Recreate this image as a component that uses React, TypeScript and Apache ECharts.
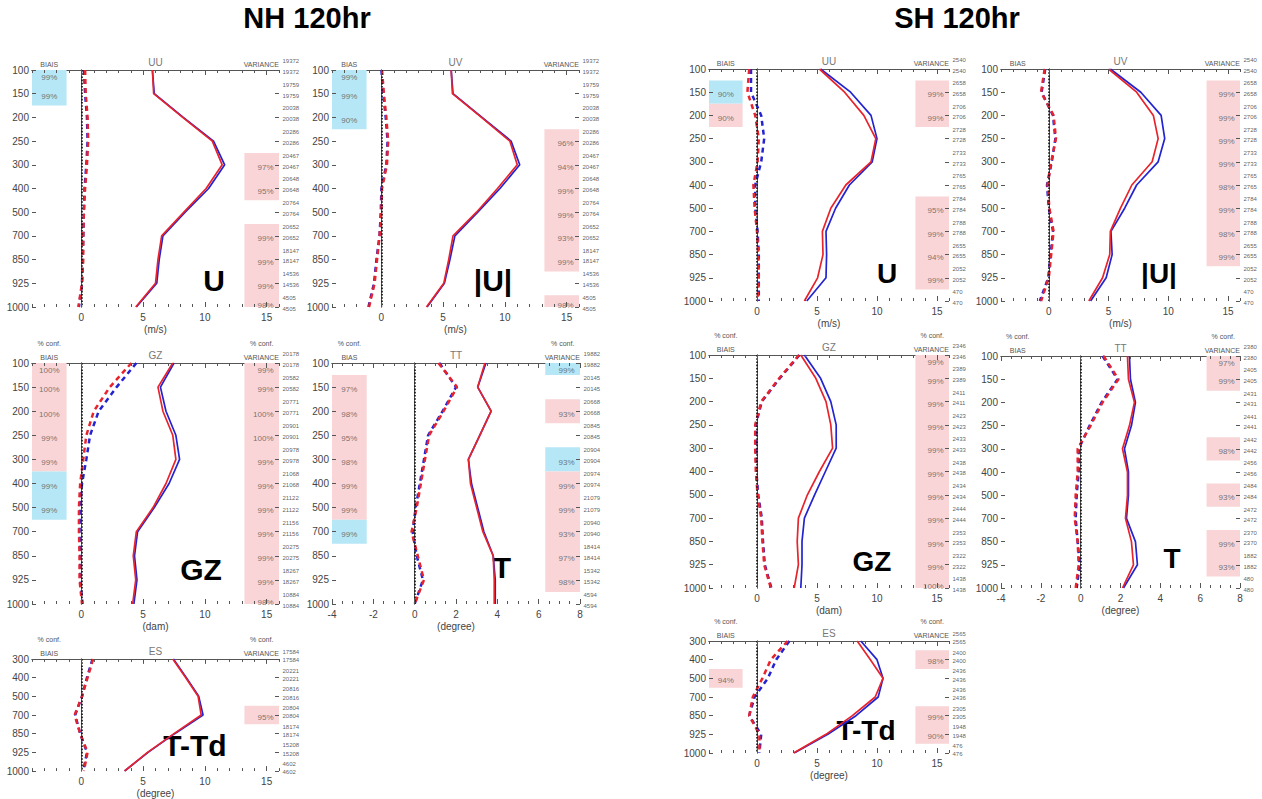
import React, { useEffect, useRef } from 'react';
import * as echarts from 'echarts';

// ---------- axes / categories ----------
const LEVELS = ['100', '150', '200', '250', '300', '400', '500', '700', '850', '925', '1000'];
const ES_LEVELS = ['300', '400', '500', '700', '850', '925', '1000'];
const WIND_X_LABELS = [0, 5, 10, 15];
const TEMP_X_LABELS = [-4, -2, 0, 2, 4, 6, 8];

// ---------- NH 120hr ----------
const NH_U_RMS_RED = [5.75, 5.85, 8.2, 10.6, 11.4, 10.1, 8.3, 6.5, 6.2, 6.0, 4.4];
const NH_U_RMS_BLUE = [5.75, 5.9, 8.25, 10.7, 11.6, 10.3, 8.4, 6.6, 6.3, 6.1, 4.45];
const NH_U_BIAS_RED = [0.3, 0.35, 0.5, 0.55, 0.45, 0.3, 0.2, 0.15, 0.15, 0.05, -0.25];
const NH_U_BIAS_BLUE = [0.2, 0.3, 0.45, 0.5, 0.4, 0.25, 0.2, 0.15, 0.1, 0.05, -0.2];
const NH_WIND_COUNTS = [19372, 19759, 20038, 20286, 20467, 20648, 20764, 20652, 18147, 14536, 4505];
const NH_U_BIAS_CONF = [['100', '99%', 'blue'], ['150', '99%', 'blue']];
const NH_U_VAR_CONF = [['300', '97%', 'pink'], ['400', '95%', 'pink'], ['700', '99%', 'pink'], ['850', '99%', 'pink'], ['925', '99%', 'pink'], ['1000', '98%', 'pink']];

const NH_UV_RMS_RED = [5.65, 5.75, 8.1, 10.4, 11.0, 9.4, 7.7, 5.8, 5.45, 5.05, 3.65];
const NH_UV_RMS_BLUE = [5.65, 5.8, 8.15, 10.5, 11.2, 9.6, 7.8, 5.95, 5.55, 5.1, 3.7];
const NH_UV_BIAS_RED = [0.05, 0.2, 0.4, 0.55, 0.45, 0.05, 0.0, -0.15, -0.35, -0.55, -1.0];
const NH_UV_BIAS_BLUE = [0.0, 0.15, 0.35, 0.5, 0.4, 0.0, -0.05, -0.15, -0.4, -0.6, -1.05];
const NH_UV_BIAS_CONF = [['100', '99%', 'blue'], ['150', '99%', 'blue'], ['200', '90%', 'blue']];
const NH_UV_VAR_CONF = [['250', '96%', 'pink'], ['300', '94%', 'pink'], ['400', '99%', 'pink'], ['500', '99%', 'pink'], ['700', '93%', 'pink'], ['850', '99%', 'pink'], ['1000', '98%', 'pink']];

const NH_GZ_RMS_RED = [7.4, 6.2, 6.6, 7.4, 7.65, 6.85, 5.8, 4.45, 4.2, 4.4, 4.15];
const NH_GZ_RMS_BLUE = [7.5, 6.4, 6.85, 7.65, 7.95, 7.1, 5.9, 4.55, 4.3, 4.5, 4.25];
const NH_GZ_BIAS_RED = [4.05, 2.3, 1.0, 0.4, 0.15, -0.1, -0.2, -0.2, -0.15, -0.15, 0.05];
const NH_GZ_BIAS_BLUE = [4.45, 2.85, 1.4, 0.7, 0.4, 0.05, -0.1, -0.15, -0.1, -0.1, 0.1];
const NH_GZ_COUNTS = [20178, 20582, 20771, 20901, 20978, 21068, 21122, 21156, 20275, 18267, 10884];
const NH_GZ_BIAS_CONF = [['100', '100%', 'pink'], ['150', '100%', 'pink'], ['200', '100%', 'pink'], ['250', '99%', 'pink'], ['300', '99%', 'pink'], ['400', '99%', 'blue'], ['500', '99%', 'blue']];
const NH_GZ_VAR_CONF = [['100', '99%', 'pink'], ['150', '99%', 'pink'], ['200', '100%', 'pink'], ['250', '100%', 'pink'], ['300', '99%', 'pink'], ['400', '99%', 'pink'], ['500', '99%', 'pink'], ['700', '99%', 'pink'], ['850', '99%', 'pink'], ['925', '99%', 'pink'], ['1000', '98%', 'pink']];

const NH_TT_RMS_RED = [3.4, 3.05, 3.7, 3.15, 2.6, 2.7, 3.0, 3.3, 3.8, 3.85, 3.85];
const NH_TT_RMS_BLUE = [3.45, 3.05, 3.7, 3.15, 2.6, 2.75, 3.05, 3.35, 3.8, 3.9, 3.9];
const NH_TT_BIAS_RED = [1.15, 2.05, 1.4, 0.7, 0.5, 0.3, 0.1, -0.15, 0.15, 0.45, 0.0];
const NH_TT_BIAS_BLUE = [1.2, 2.0, 1.35, 0.65, 0.45, 0.25, 0.05, -0.1, 0.1, 0.4, 0.0];
const NH_TT_COUNTS = [19882, 20145, 20668, 20845, 20904, 20974, 21079, 20940, 18414, 15342, 4594];
const NH_TT_BIAS_CONF = [['150', '97%', 'pink'], ['200', '98%', 'pink'], ['250', '95%', 'pink'], ['300', '98%', 'pink'], ['400', '99%', 'pink'], ['500', '99%', 'pink'], ['700', '99%', 'blue']];
const NH_TT_VAR_CONF = [['100', '99%', 'blue'], ['200', '93%', 'pink'], ['300', '93%', 'blue'], ['400', '99%', 'pink'], ['500', '99%', 'pink'], ['700', '93%', 'pink'], ['850', '97%', 'pink'], ['925', '98%', 'pink']];

const NH_ES_RMS_RED = [7.4, 8.45, 9.45, 9.7, 7.5, 5.35, 3.5];
const NH_ES_RMS_BLUE = [7.45, 8.5, 9.5, 9.85, 7.55, 5.4, 3.5];
const NH_ES_BIAS_RED = [0.95, 0.5, 0.05, -0.55, -0.1, 0.5, 0.2];
const NH_ES_BIAS_BLUE = [0.9, 0.45, 0.05, -0.5, -0.1, 0.45, 0.15];
const NH_ES_COUNTS = [17584, 20221, 20816, 20804, 18174, 15208, 4602];
const NH_ES_BIAS_CONF: string[][] = [];
const NH_ES_VAR_CONF = [['700', '95%', 'pink']];

// ---------- SH 120hr ----------
const SH_U_RMS_RED = [5.2, 7.3, 8.9, 9.9, 9.5, 7.4, 6.15, 5.45, 5.5, 5.05, 3.95];
const SH_U_RMS_BLUE = [5.3, 7.8, 9.5, 10.0, 9.6, 7.7, 6.55, 5.75, 5.8, 5.75, 4.15];
const SH_U_BIAS_RED = [-0.65, -0.8, -0.15, 0.15, 0.05, -0.3, -0.2, 0.0, 0.1, 0.15, 0.05];
const SH_U_BIAS_BLUE = [-0.5, -0.5, 0.35, 0.6, 0.35, -0.15, -0.15, 0.05, 0.15, 0.15, 0.15];
const SH_WIND_COUNTS = [2540, 2658, 2706, 2728, 2733, 2765, 2784, 2788, 2655, 2052, 470];
const SH_U_BIAS_CONF = [['150', '90%', 'blue'], ['200', '90%', 'pink']];
const SH_U_VAR_CONF = [['150', '99%', 'pink'], ['200', '99%', 'pink'], ['500', '95%', 'pink'], ['700', '99%', 'pink'], ['850', '94%', 'pink'], ['925', '99%', 'pink']];

const SH_UV_RMS_RED = [5.0, 7.35, 8.75, 9.15, 8.65, 6.95, 6.0, 5.15, 5.1, 4.5, 3.35];
const SH_UV_RMS_BLUE = [5.15, 7.7, 9.4, 9.7, 9.15, 7.35, 6.35, 5.2, 5.3, 4.8, 3.5];
const SH_UV_BIAS_RED = [-0.35, -0.65, 0.4, 0.6, 0.2, -0.1, 0.05, 0.4, 0.2, 0.0, -0.65];
const SH_UV_BIAS_BLUE = [-0.3, -0.6, 0.35, 0.55, 0.25, -0.15, 0.0, 0.35, 0.15, -0.05, -0.75];
const SH_UV_BIAS_CONF: string[][] = [];
const SH_UV_VAR_CONF = [['150', '99%', 'pink'], ['200', '99%', 'pink'], ['250', '99%', 'pink'], ['300', '99%', 'pink'], ['400', '98%', 'pink'], ['500', '99%', 'pink'], ['700', '98%', 'pink'], ['850', '99%', 'pink']];

const SH_GZ_RMS_RED = [3.65, 4.9, 5.75, 6.15, 6.3, 5.2, 4.2, 3.45, 3.35, 3.45, 3.1];
const SH_GZ_RMS_BLUE = [3.95, 5.3, 6.15, 6.6, 6.6, 5.7, 4.8, 3.95, 3.75, 3.75, 3.65];
const SH_GZ_BIAS_RED = [3.5, 1.85, 0.35, -0.15, -0.15, -0.1, 0.05, 0.35, 0.45, 0.6, 1.15];
const SH_GZ_BIAS_BLUE = [3.55, 1.9, 0.4, -0.1, -0.1, -0.05, 0.1, 0.4, 0.5, 0.65, 1.2];
const SH_GZ_COUNTS = [2346, 2389, 2411, 2423, 2433, 2438, 2434, 2444, 2353, 2322, 1438];
const SH_GZ_BIAS_CONF: string[][] = [];
const SH_GZ_VAR_CONF = [['100', '99%', 'pink'], ['150', '99%', 'pink'], ['200', '99%', 'pink'], ['250', '99%', 'pink'], ['300', '99%', 'pink'], ['400', '99%', 'pink'], ['500', '99%', 'pink'], ['700', '99%', 'pink'], ['850', '99%', 'pink'], ['925', '99%', 'pink'], ['1000', '100%', 'pink']];

const SH_TT_RMS_RED = [2.35, 2.4, 2.7, 2.45, 2.1, 2.35, 2.35, 2.25, 2.55, 2.65, 2.1];
const SH_TT_RMS_BLUE = [2.45, 2.5, 2.75, 2.55, 2.2, 2.4, 2.4, 2.3, 2.75, 2.85, 2.15];
const SH_TT_BIAS_RED = [1.15, 1.9, 1.1, 0.5, -0.15, -0.15, -0.25, -0.3, -0.15, -0.1, -0.25];
const SH_TT_BIAS_BLUE = [1.1, 1.85, 1.05, 0.45, -0.1, -0.1, -0.2, -0.25, -0.15, -0.05, -0.2];
const SH_TT_COUNTS = [2380, 2405, 2431, 2441, 2442, 2456, 2484, 2472, 2370, 1882, 480];
const SH_TT_BIAS_CONF: string[][] = [];
const SH_TT_VAR_CONF = [['100', '97%', 'pink'], ['150', '99%', 'pink'], ['300', '98%', 'pink'], ['500', '93%', 'pink'], ['850', '99%', 'pink'], ['925', '93%', 'pink']];

const SH_ES_RMS_RED = [8.35, 9.45, 10.5, 9.85, 7.95, 5.75, 3.05];
const SH_ES_RMS_BLUE = [8.65, 10.0, 10.5, 10.1, 8.25, 5.9, 3.1];
const SH_ES_BIAS_RED = [2.55, 1.15, 0.45, -0.35, -0.65, 0.2, 0.2];
const SH_ES_BIAS_BLUE = [2.7, 1.6, 0.9, -0.2, -0.65, 0.35, 0.2];
const SH_ES_COUNTS = [2565, 2400, 2436, 2436, 2305, 1948, 476];
const SH_ES_BIAS_CONF = [['500', '94%', 'pink']];
const SH_ES_VAR_CONF = [['400', '98%', 'pink'], ['850', '99%', 'pink'], ['925', '90%', 'pink']];

// ---------- panel definitions ----------
const PANELS = [
  { id: 'nhU', title: 'UU', biasWord: 'BIAIS', big: 'U', unit: '(m/s)', kind: 'wind', levels: LEVELS, pctConf: false,
    rmsRed: NH_U_RMS_RED, rmsBlue: NH_U_RMS_BLUE, biasRed: NH_U_BIAS_RED, biasBlue: NH_U_BIAS_BLUE, counts: NH_WIND_COUNTS, biasConf: NH_U_BIAS_CONF, varConf: NH_U_VAR_CONF },
  { id: 'nhUV', title: 'UV', biasWord: 'BIAS', big: '|U|', unit: '(m/s)', kind: 'wind', levels: LEVELS, pctConf: false,
    rmsRed: NH_UV_RMS_RED, rmsBlue: NH_UV_RMS_BLUE, biasRed: NH_UV_BIAS_RED, biasBlue: NH_UV_BIAS_BLUE, counts: NH_WIND_COUNTS, biasConf: NH_UV_BIAS_CONF, varConf: NH_UV_VAR_CONF },
  { id: 'nhGZ', title: 'GZ', biasWord: 'BIAIS', big: 'GZ', unit: '(dam)', kind: 'wind', levels: LEVELS, pctConf: true,
    rmsRed: NH_GZ_RMS_RED, rmsBlue: NH_GZ_RMS_BLUE, biasRed: NH_GZ_BIAS_RED, biasBlue: NH_GZ_BIAS_BLUE, counts: NH_GZ_COUNTS, biasConf: NH_GZ_BIAS_CONF, varConf: NH_GZ_VAR_CONF },
  { id: 'nhTT', title: 'TT', biasWord: 'BIAS', big: 'T', unit: '(degree)', kind: 'temp', levels: LEVELS, pctConf: true,
    rmsRed: NH_TT_RMS_RED, rmsBlue: NH_TT_RMS_BLUE, biasRed: NH_TT_BIAS_RED, biasBlue: NH_TT_BIAS_BLUE, counts: NH_TT_COUNTS, biasConf: NH_TT_BIAS_CONF, varConf: NH_TT_VAR_CONF },
  { id: 'nhES', title: 'ES', biasWord: 'BIAIS', big: 'T-Td', unit: '(degree)', kind: 'wind', levels: ES_LEVELS, pctConf: true,
    rmsRed: NH_ES_RMS_RED, rmsBlue: NH_ES_RMS_BLUE, biasRed: NH_ES_BIAS_RED, biasBlue: NH_ES_BIAS_BLUE, counts: NH_ES_COUNTS, biasConf: NH_ES_BIAS_CONF, varConf: NH_ES_VAR_CONF },
  { id: 'shU', title: 'UU', biasWord: 'BIAIS', big: 'U', unit: '(m/s)', kind: 'wind', levels: LEVELS, pctConf: false,
    rmsRed: SH_U_RMS_RED, rmsBlue: SH_U_RMS_BLUE, biasRed: SH_U_BIAS_RED, biasBlue: SH_U_BIAS_BLUE, counts: SH_WIND_COUNTS, biasConf: SH_U_BIAS_CONF, varConf: SH_U_VAR_CONF },
  { id: 'shUV', title: 'UV', biasWord: 'BIAS', big: '|U|', unit: '(m/s)', kind: 'wind', levels: LEVELS, pctConf: false,
    rmsRed: SH_UV_RMS_RED, rmsBlue: SH_UV_RMS_BLUE, biasRed: SH_UV_BIAS_RED, biasBlue: SH_UV_BIAS_BLUE, counts: SH_WIND_COUNTS, biasConf: SH_UV_BIAS_CONF, varConf: SH_UV_VAR_CONF },
  { id: 'shGZ', title: 'GZ', biasWord: 'BIAIS', big: 'GZ', unit: '(dam)', kind: 'wind', levels: LEVELS, pctConf: true,
    rmsRed: SH_GZ_RMS_RED, rmsBlue: SH_GZ_RMS_BLUE, biasRed: SH_GZ_BIAS_RED, biasBlue: SH_GZ_BIAS_BLUE, counts: SH_GZ_COUNTS, biasConf: SH_GZ_BIAS_CONF, varConf: SH_GZ_VAR_CONF },
  { id: 'shTT', title: 'TT', biasWord: 'BIAS', big: 'T', unit: '(degree)', kind: 'temp', levels: LEVELS, pctConf: true,
    rmsRed: SH_TT_RMS_RED, rmsBlue: SH_TT_RMS_BLUE, biasRed: SH_TT_BIAS_RED, biasBlue: SH_TT_BIAS_BLUE, counts: SH_TT_COUNTS, biasConf: SH_TT_BIAS_CONF, varConf: SH_TT_VAR_CONF },
  { id: 'shES', title: 'ES', biasWord: 'BIAIS', big: 'T-Td', unit: '(degree)', kind: 'wind', levels: ES_LEVELS, pctConf: true,
    rmsRed: SH_ES_RMS_RED, rmsBlue: SH_ES_RMS_BLUE, biasRed: SH_ES_BIAS_RED, biasBlue: SH_ES_BIAS_BLUE, counts: SH_ES_COUNTS, biasConf: SH_ES_BIAS_CONF, varConf: SH_ES_VAR_CONF },
];

// ---------- layout (pixels) ----------
const LAYOUT: Record<string, any> = {
  nhU: { left: 32, top: 70, width: 247, height: 237, bigX: 214, bigY: 280, bigSize: 30 },
  nhUV: { left: 332, top: 70, width: 247, height: 237, bigX: 493, bigY: 280, bigSize: 30 },
  nhGZ: { left: 32, top: 363, width: 247, height: 241, bigX: 201, bigY: 569, bigSize: 30 },
  nhTT: { left: 332, top: 363, width: 248, height: 241, bigX: 502, bigY: 567, bigSize: 30 },
  nhES: { left: 32, top: 659, width: 247, height: 115, bigX: 195, bigY: 745, bigSize: 30 },
  shU: { left: 709, top: 69, width: 240, height: 232, bigX: 887, bigY: 273, bigSize: 28 },
  shUV: { left: 1001, top: 69, width: 239, height: 232, bigX: 1159, bigY: 273, bigSize: 28 },
  shGZ: { left: 709, top: 355, width: 240, height: 233, bigX: 872, bigY: 561, bigSize: 28 },
  shTT: { left: 1001, top: 356, width: 239, height: 232, bigX: 1172, bigY: 558, bigSize: 28 },
  shES: { left: 709, top: 641, width: 240, height: 112, bigX: 866, bigY: 730, bigSize: 28 },
};

const RED = '#e8232b';
const BLUE = '#2323d2';
const FRAME = '#555';
const BOX_COLORS: Record<string, string> = { pink: '#f9d5d7', blue: '#b6e7f6' };
const FONT = '"Liberation Sans", Arial, Helvetica, sans-serif';

function txt(x: number, y: number, text: string, size: number, fill: string, align = 'center', weight = 'normal') {
  return {
    type: 'text', x, y, silent: true,
    style: { text, fill, fontSize: size, fontWeight: weight, fontFamily: FONT, align, textAlign: align, verticalAlign: 'middle', textVerticalAlign: 'middle' },
  };
}

function buildOption() {
  const grid: any[] = [];
  const xAxis: any[] = [];
  const yAxis: any[] = [];
  const series: any[] = [];
  const graphic: any[] = [
    txt(307, 18, 'NH 120hr', 29, '#000', 'center', 'bold'),
    txt(957, 18, 'SH 120hr', 29, '#000', 'center', 'bold'),
  ];

  PANELS.forEach((p, k) => {
    const L = LAYOUT[p.id];
    const n = p.levels.length;
    const xmin = -4;
    const xmax = p.kind === 'wind' ? 16 : 8;
    const step = p.kind === 'wind' ? 1 : 0.5;
    const labels = p.kind === 'wind' ? WIND_X_LABELS : TEMP_X_LABELS;
    const ticks: number[] = [];
    for (let v = xmin; v <= xmax + 1e-9; v += step) ticks.push(Math.round(v * 100) / 100);
    const axisLine = { show: true, lineStyle: { color: FRAME, width: 1 } };
    const noTick = { show: false };

    grid.push({ left: L.left, top: L.top, width: L.width, height: L.height });

    xAxis.push({
      type: 'value', gridIndex: k, min: xmin, max: xmax, position: 'bottom', axisLine, axisTick: noTick,
      axisLabel: { show: true, customValues: labels, fontSize: 10, color: '#444', margin: 5, fontFamily: FONT },
      splitLine: { show: false },
      name: p.unit, nameLocation: 'middle', nameGap: 17,
      nameTextStyle: { fontSize: 10, color: '#444', fontFamily: FONT },
    });
    xAxis.push({
      type: 'value', gridIndex: k, min: xmin, max: xmax, position: 'top', axisLine, axisTick: noTick,
      axisLabel: { show: false }, splitLine: { show: false },
    });
    yAxis.push({
      type: 'value', gridIndex: k, min: 0, max: n - 1, interval: 1, inverse: true, position: 'left', axisLine, axisTick: noTick,
      axisLabel: { fontSize: 10, color: '#444', margin: 3, fontFamily: FONT, formatter: (v: number) => p.levels[Math.round(v)] ?? '' },
      splitLine: { show: false },
    });
    yAxis.push({
      type: 'value', gridIndex: k, min: 0, max: n - 1, interval: 1, inverse: true, position: 'right', axisLine, axisTick: noTick,
      axisLabel: { show: false }, splitLine: { show: false },
    });

    const ax = { xAxisIndex: 2 * k, yAxisIndex: 2 * k };
    const boxW = 0.14 * (xmax - xmin);
    const idx = (lev: string) => p.levels.indexOf(lev);

    // inward tick marks, expressed in data units of this panel's scales
    const perY = L.height / (n - 1);
    const perX = L.width / (xmax - xmin);
    const tickSegs: any[] = [];
    ticks.forEach(v => {
      const len = (labels.includes(v) ? 5 : 3) / perY;
      tickSegs.push([{ coord: [v, 0] }, { coord: [v, len] }]);
      tickSegs.push([{ coord: [v, n - 1] }, { coord: [v, n - 1 - len] }]);
    });
    p.levels.forEach((_, i) => {
      const len = 4 / perX;
      tickSegs.push([{ coord: [xmin, i] }, { coord: [xmin + len, i] }]);
      tickSegs.push([{ coord: [xmax, i] }, { coord: [xmax - len, i] }]);
    });

    // shaded significance boxes, merged when contiguous with the same colour
    const areas: any[] = [];
    const addBoxes = (conf: string[][], x0: number, x1: number) => {
      const items = conf.map(c => ({ i: idx(c[0]), color: c[2] })).sort((a, b) => a.i - b.i);
      let run: any = null;
      const flush = () => {
        if (!run) return;
        areas.push([
          { xAxis: x0, yAxis: Math.max(0, run.start - 0.5), itemStyle: { color: BOX_COLORS[run.color], opacity: 1 } },
          { xAxis: x1, yAxis: Math.min(n - 1, run.end + 0.5) },
        ]);
      };
      items.forEach(it => {
        if (run && it.i === run.end + 1 && it.color === run.color) run.end = it.i;
        else { flush(); run = { start: it.i, end: it.i, color: it.color }; }
      });
      flush();
    };
    addBoxes(p.biasConf, xmin, xmin + boxW);
    addBoxes(p.varConf, xmax - boxW, xmax);

    const toPts = (arr: number[]) => arr.map((v, i) => [v, i]);
    const dash = { width: 2.5, type: [5, 4] };

    series.push({
      type: 'line', ...ax, data: toPts(p.biasBlue), symbol: 'none', silent: true,
      lineStyle: { color: BLUE, ...dash },
      markArea: { silent: true, data: areas, label: { show: false } },
      markLine: {
        silent: true, symbol: ['none', 'none'], label: { show: false },
        lineStyle: { color: '#111', type: 'dotted', width: 1.6 },
        data: [{ xAxis: 0 }],
      },
    });
    series.push({ type: 'line', ...ax, data: toPts(p.biasRed), symbol: 'none', silent: true, lineStyle: { color: RED, ...dash } });
    series.push({
      type: 'line', ...ax, data: toPts(p.rmsBlue), symbol: 'none', silent: true, lineStyle: { color: BLUE, width: 1.7 },
      markLine: {
        silent: true, symbol: ['none', 'none'], label: { show: false },
        lineStyle: { color: FRAME, type: 'solid', width: 1 },
        data: tickSegs,
      },
    });
    series.push({ type: 'line', ...ax, data: toPts(p.rmsRed), symbol: 'none', silent: true, lineStyle: { color: RED, width: 1.7 } });

    // percentage labels inside boxes
    const labY = (i: number) => Math.min(Math.max(i + 0.12, 0.32), n - 1 - 0.05);
    const pctData = [
      ...p.biasConf.map(c => ({ value: [xmin + boxW / 2, labY(idx(c[0]))], name: c[1], label: { position: 'inside' } })),
      ...p.varConf.map(c => ({ value: [xmax, labY(idx(c[0]))], name: c[1], label: { position: 'left', distance: 5 } })),
    ];
    series.push({
      type: 'scatter', ...ax, data: pctData, symbolSize: 1, clip: false, silent: true,
      itemStyle: { color: 'rgba(0,0,0,0)' },
      label: { show: true, formatter: '{b}', fontSize: 8, color: '#555', fontFamily: FONT },
    });

    // sample counts at right
    const cntData = p.counts.flatMap((c, i) => [
      { value: [xmax, i - 0.38], name: String(c) },
      { value: [xmax, i + 0.08], name: String(c) },
    ]);
    series.push({
      type: 'scatter', ...ax, data: cntData, symbolSize: 1, clip: false, silent: true,
      itemStyle: { color: 'rgba(0,0,0,0)' },
      label: { show: true, position: 'right', distance: 3, formatter: '{b}', fontSize: 6, color: '#333', fontFamily: FONT },
    });

    // header texts
    graphic.push(txt(L.left + L.width / 2, L.top - 8, p.title, 10, '#777'));
    graphic.push(txt(L.left + 0.07 * L.width, L.top - 6, p.biasWord, 7, '#555'));
    graphic.push(txt(L.left + L.width, L.top - 6, 'VARIANCE', 7, '#555', 'right'));
    if (p.pctConf) {
      graphic.push(txt(L.left + 0.07 * L.width, L.top - 20, '% conf.', 7, '#555'));
      graphic.push(txt(L.left + L.width - 0.07 * L.width, L.top - 20, '% conf.', 7, '#555'));
    }
    graphic.push(txt(L.bigX, L.bigY, p.big, L.bigSize, '#000', 'center', 'bold'));
  });

  return {
    animation: false,
    backgroundColor: '#ffffff',
    textStyle: { fontFamily: FONT },
    grid, xAxis, yAxis, series, graphic,
  };
}

export default function App() {
  const ref = useRef<HTMLDivElement>(null);
  useEffect(() => {
    if (!ref.current) return;
    const chart = echarts.init(ref.current, null, { renderer: 'svg' });
    chart.setOption(buildOption() as any);
    return () => chart.dispose();
  }, []);
  return (
    <div
      ref={ref}
      style={{ position: 'fixed', left: 0, top: 0, width: 1262, height: 799, background: '#fff' }}
    />
  );
}
